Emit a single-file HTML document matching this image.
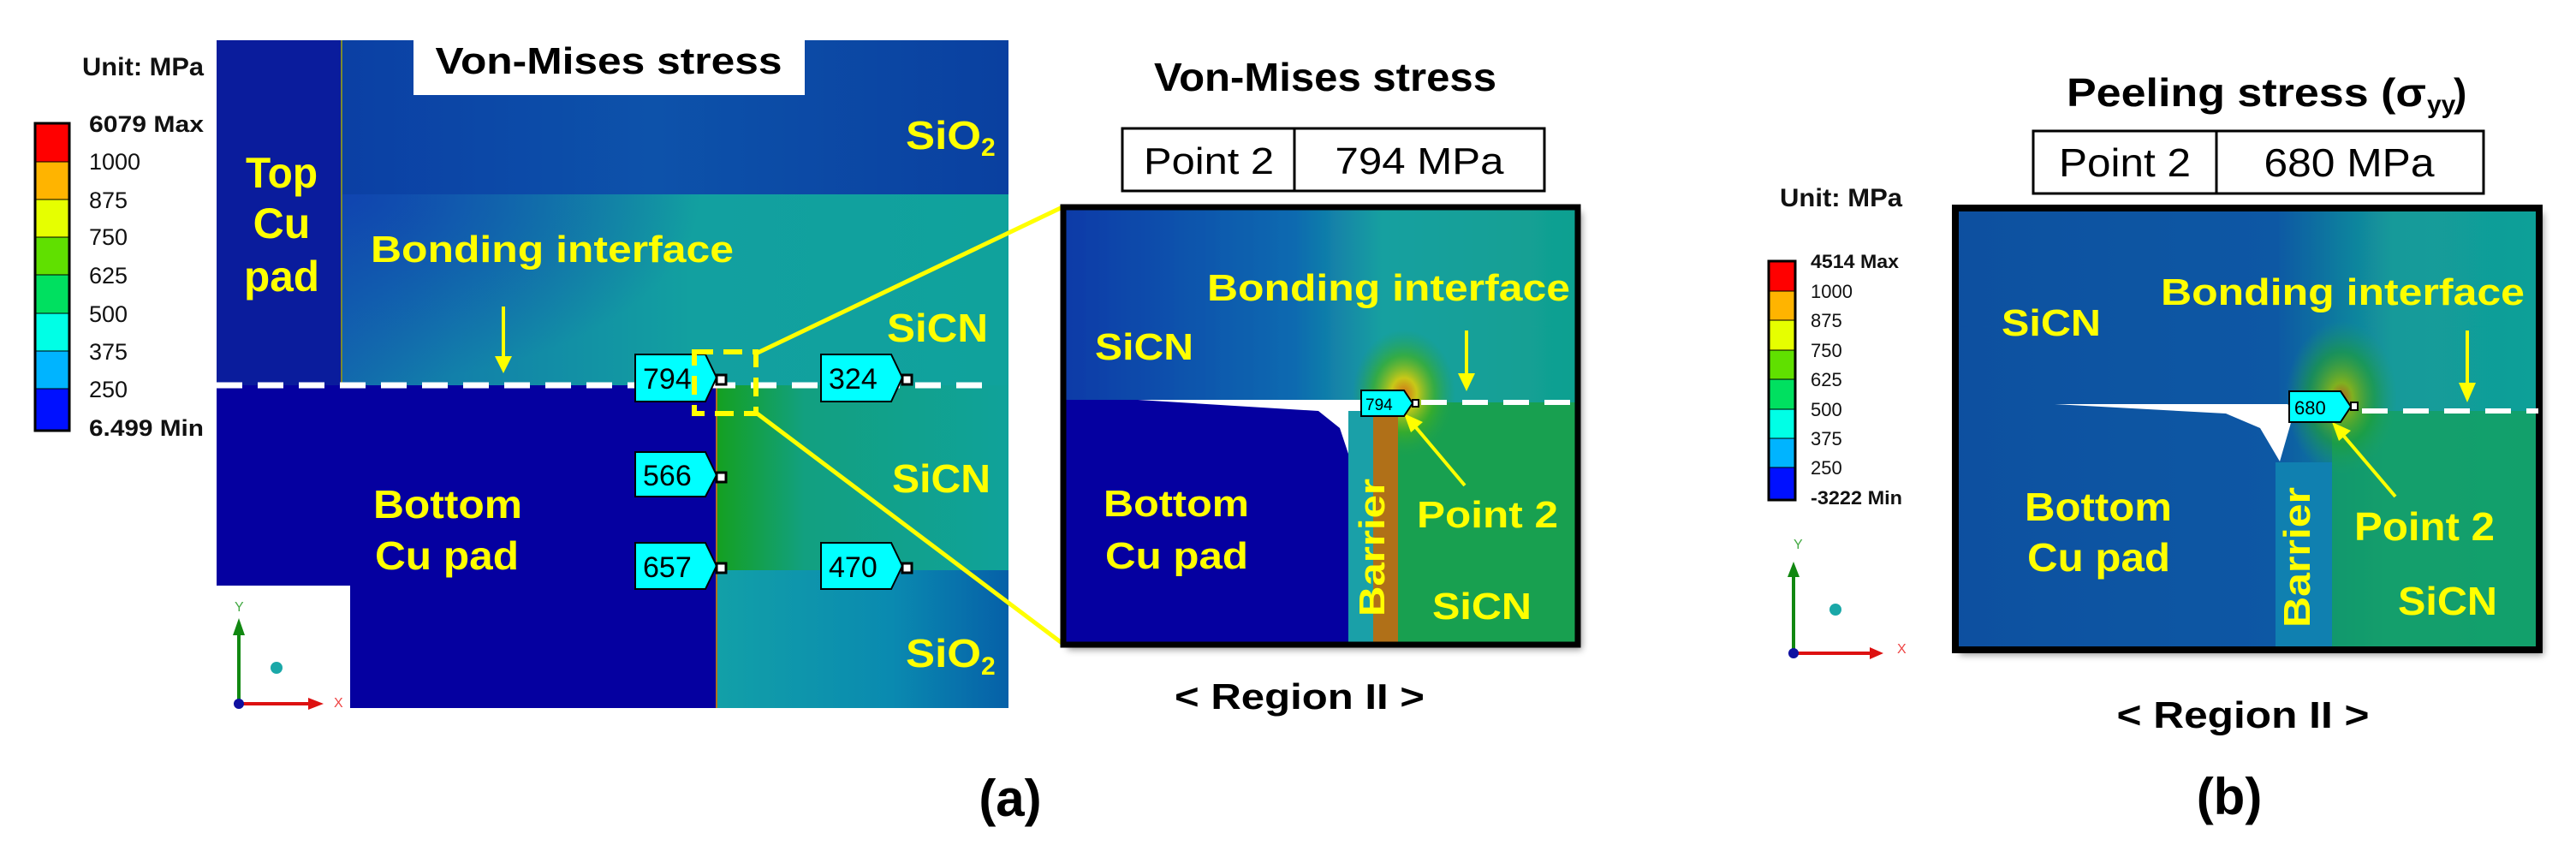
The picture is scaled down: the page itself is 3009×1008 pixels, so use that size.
<!DOCTYPE html>
<html><head><meta charset="utf-8"><style>
html,body{margin:0;padding:0;background:#fff;}
svg{display:block;}
text{font-family:"Liberation Sans",Arial,sans-serif;}
.y{fill:#ffff00;font-weight:bold;}
.k{fill:#000;font-weight:bold;}
.leg{fill:#111;font-size:27px;}
</style></head><body>
<svg width="3009" height="1008" viewBox="0 0 3009 1008" xmlns="http://www.w3.org/2000/svg">
<defs>
<linearGradient id="sicnU" x1="0" y1="0" x2="1" y2="0">
<stop offset="0" stop-color="#1250b0"/><stop offset="0.3" stop-color="#1280aa"/><stop offset="0.6" stop-color="#12a0a0"/><stop offset="1" stop-color="#10a29c"/></linearGradient>
<linearGradient id="sio2T" x1="0" y1="0" x2="1" y2="0">
<stop offset="0" stop-color="#0a38a2"/><stop offset="0.55" stop-color="#0d52aa"/><stop offset="1" stop-color="#0a40a0"/></linearGradient>
<linearGradient id="sicnL" x1="0" y1="0" x2="1" y2="0">
<stop offset="0" stop-color="#14a020"/><stop offset="0.3" stop-color="#12a080"/><stop offset="1" stop-color="#10a29a"/></linearGradient>
<linearGradient id="sio2B" x1="0" y1="0" x2="1" y2="0">
<stop offset="0" stop-color="#12a0a8"/><stop offset="0.6" stop-color="#0a8ab0"/><stop offset="1" stop-color="#0660a8"/></linearGradient>
<linearGradient id="zA" x1="0" y1="0" x2="1" y2="0">
<stop offset="0" stop-color="#0a3aa8"/><stop offset="0.45" stop-color="#0d6ab0"/><stop offset="0.62" stop-color="#18a0a0"/><stop offset="1" stop-color="#10a090"/></linearGradient>
<linearGradient id="zB" x1="0" y1="0" x2="1" y2="0">
<stop offset="0" stop-color="#0a50a0"/><stop offset="0.55" stop-color="#0c58a4"/><stop offset="0.75" stop-color="#139a9a"/><stop offset="1" stop-color="#10a098"/></linearGradient>
<radialGradient id="hotA" cx="0.5" cy="0.5" r="0.5">
<stop offset="0" stop-color="#d07018"/><stop offset="0.25" stop-color="#c8c818"/><stop offset="0.6" stop-color="#40b020" stop-opacity="0.7"/><stop offset="1" stop-color="#20a050" stop-opacity="0"/></radialGradient>
<radialGradient id="hotB" cx="0.5" cy="0.5" r="0.5">
<stop offset="0" stop-color="#b06020"/><stop offset="0.2" stop-color="#80b020"/><stop offset="0.6" stop-color="#20a030" stop-opacity="0.6"/><stop offset="1" stop-color="#20a060" stop-opacity="0"/></radialGradient>
<radialGradient id="blueTL" cx="0" cy="0" r="1">
<stop offset="0" stop-color="#1040b0" stop-opacity="0.9"/><stop offset="1" stop-color="#1040b0" stop-opacity="0"/></radialGradient>
<filter id="sh"><feDropShadow dx="5" dy="6" stdDeviation="4" flood-opacity="0.4"/></filter>
</defs>

<rect x="253" y="47" width="925" height="180" fill="url(#sio2T)"/>
<rect x="253" y="227" width="925" height="223" fill="url(#sicnU)"/>
<rect x="399" y="227" width="420" height="223" fill="url(#blueTL)"/>
<rect x="253" y="47" width="146" height="403" fill="#0a1c9c"/>
<line x1="399" y1="47" x2="399" y2="450" stroke="#7a8a30" stroke-width="2"/>
<rect x="837" y="450" width="341" height="216" fill="url(#sicnL)"/>
<rect x="837" y="666" width="341" height="161" fill="url(#sio2B)"/>
<rect x="253" y="450" width="584" height="377" fill="#0500a0"/>
<rect x="253" y="684" width="156" height="143" fill="#fff"/>
<line x1="837" y1="450" x2="837" y2="827" stroke="#b07020" stroke-width="2"/>
<rect x="483" y="47" width="457" height="64" fill="#fff"/>
<text x="711" y="86" text-anchor="middle" class="k" font-size="44" textLength="405" lengthAdjust="spacingAndGlyphs">Von-Mises stress</text>
<line x1="253" y1="450" x2="1165" y2="450" stroke="#fff" stroke-width="7" stroke-dasharray="30 18"/>

<text x="329" y="219" text-anchor="middle" class="y" font-size="50" textLength="84" lengthAdjust="spacingAndGlyphs">Top</text>
<text x="329" y="278" text-anchor="middle" class="y" font-size="50">Cu</text>
<text x="329" y="340" text-anchor="middle" class="y" font-size="50" textLength="88" lengthAdjust="spacingAndGlyphs">pad</text>
<text x="433" y="306" class="y" font-size="44" textLength="424" lengthAdjust="spacingAndGlyphs">Bonding interface</text>
<line x1="588" y1="358" x2="588" y2="420" stroke="#ffff00" stroke-width="4"/>
<polygon points="578,416 598,416 588,436" fill="#ffff00"/>
<text x="1058" y="174" class="y" font-size="46" textLength="88" lengthAdjust="spacingAndGlyphs">SiO</text><text x="1146" y="182" class="y" font-size="30">2</text>
<text x="1036" y="399" class="y" font-size="46" textLength="118" lengthAdjust="spacingAndGlyphs">SiCN</text>
<text x="1042" y="575" class="y" font-size="46" textLength="115" lengthAdjust="spacingAndGlyphs">SiCN</text>
<text x="1058" y="779" class="y" font-size="46" textLength="88" lengthAdjust="spacingAndGlyphs">SiO</text><text x="1146" y="788" class="y" font-size="30">2</text>
<text x="436" y="605" class="y" font-size="46" textLength="174" lengthAdjust="spacingAndGlyphs">Bottom</text>
<text x="438" y="665" class="y" font-size="46" textLength="168" lengthAdjust="spacingAndGlyphs">Cu pad</text>

<g font-family="Liberation Mono,monospace" font-size="34" fill="#000">
<g transform="translate(742,414)"><polygon points="0,0 82,0 95,27 82,55 0,55" fill="#00ffff" stroke="#000" stroke-width="2"/><rect x="95" y="24" width="11" height="11" fill="#fff" stroke="#000" stroke-width="3"/><text x="9" y="40">794</text></g>
<g transform="translate(742,528)"><polygon points="0,0 82,0 95,27 82,52 0,52" fill="#00ffff" stroke="#000" stroke-width="2"/><rect x="95" y="24" width="11" height="11" fill="#fff" stroke="#000" stroke-width="3"/><text x="9" y="39">566</text></g>
<g transform="translate(742,634)"><polygon points="0,0 82,0 95,27 82,54 0,54" fill="#00ffff" stroke="#000" stroke-width="2"/><rect x="95" y="24" width="11" height="11" fill="#fff" stroke="#000" stroke-width="3"/><text x="9" y="40">657</text></g>
<g transform="translate(959,414)"><polygon points="0,0 82,0 95,27 82,55 0,55" fill="#00ffff" stroke="#000" stroke-width="2"/><rect x="95" y="24" width="11" height="11" fill="#fff" stroke="#000" stroke-width="3"/><text x="9" y="40">324</text></g>
<g transform="translate(959,634)"><polygon points="0,0 82,0 95,27 82,54 0,54" fill="#00ffff" stroke="#000" stroke-width="2"/><rect x="95" y="24" width="11" height="11" fill="#fff" stroke="#000" stroke-width="3"/><text x="9" y="40">470</text></g>
</g>
<rect x="811" y="411" width="72" height="72" fill="none" stroke="#ffff00" stroke-width="6" stroke-dasharray="22 12"/>
<line x1="883" y1="413" x2="1243" y2="241" stroke="#ffff00" stroke-width="5"/>
<line x1="883" y1="482" x2="1243" y2="753" stroke="#ffff00" stroke-width="5"/>

<text x="96" y="88" font-size="30" font-weight="bold" fill="#111" textLength="142" lengthAdjust="spacingAndGlyphs">Unit: MPa</text>
<g stroke="#000" stroke-width="1">
<rect x="41" y="144" width="40" height="45" fill="#ff0000"/>
<rect x="41" y="189" width="40" height="44" fill="#ffb400"/>
<rect x="41" y="233" width="40" height="44" fill="#e6ff00"/>
<rect x="41" y="277" width="40" height="44" fill="#60e000"/>
<rect x="41" y="321" width="40" height="45" fill="#00e060"/>
<rect x="41" y="366" width="40" height="44" fill="#00ffe6"/>
<rect x="41" y="410" width="40" height="44" fill="#00b4ff"/>
<rect x="41" y="454" width="40" height="49" fill="#0010ff"/>
</g>
<rect x="41" y="144" width="40" height="359" fill="none" stroke="#000" stroke-width="3"/>
<g class="leg">
<text x="104" y="154" font-weight="bold" textLength="134" lengthAdjust="spacingAndGlyphs">6079 Max</text>
<text x="104" y="198">1000</text><text x="104" y="243">875</text><text x="104" y="286">750</text>
<text x="104" y="331">625</text><text x="104" y="376">500</text><text x="104" y="420">375</text>
<text x="104" y="464">250</text>
<text x="104" y="509" font-weight="bold" textLength="134" lengthAdjust="spacingAndGlyphs">6.499 Min</text>
</g>
<text x="274" y="714" font-size="16" fill="#4a4">Y</text>
<line x1="279" y1="822" x2="279" y2="740" stroke="#118811" stroke-width="4"/>
<polygon points="272,742 286,742 279,722" fill="#118811"/>
<line x1="279" y1="822" x2="362" y2="822" stroke="#dd1111" stroke-width="4"/>
<polygon points="360,815 360,829 378,822" fill="#dd1111"/>
<circle cx="279" cy="822" r="6" fill="#1010a0"/>
<circle cx="323" cy="780" r="7" fill="#1aa8a8"/>
<text x="390" y="826" font-size="16" fill="#e44">X</text>

<text x="1548" y="106" text-anchor="middle" class="k" font-size="46" textLength="400" lengthAdjust="spacingAndGlyphs">Von-Mises stress</text>
<rect x="1311" y="150" width="493" height="73" fill="#fff" stroke="#000" stroke-width="3"/>
<line x1="1512" y1="150" x2="1512" y2="223" stroke="#000" stroke-width="3"/>
<text x="1412" y="203" text-anchor="middle" font-size="44" fill="#000" textLength="152" lengthAdjust="spacingAndGlyphs">Point 2</text>
<text x="1658" y="203" text-anchor="middle" font-size="44" fill="#000" textLength="197" lengthAdjust="spacingAndGlyphs">794 MPa</text>
<g filter="url(#sh)">
<rect x="1242" y="242" width="601" height="511" fill="url(#zA)"/>
</g>
<rect x="1600" y="470" width="243" height="283" fill="#18a050"/>
<ellipse cx="1640" cy="460" rx="60" ry="75" fill="url(#hotA)"/>
<path d="M1245,467 L1590,467 L1590,470 L1575,490 L1575,753 L1245,753 Z" fill="#0500a0"/>
<path d="M1329,467 L1590,467 L1600,470 L1580,510 L1575,530 L1565,500 L1540,480 Z" fill="#fff"/>
<rect x="1575" y="480" width="29" height="273" fill="#1aa0a8"/>
<rect x="1604" y="476" width="29" height="277" fill="#b07018"/>
<rect x="1242" y="242" width="601" height="511" fill="none" stroke="#000" stroke-width="7"/>
<line x1="1660" y1="470" x2="1838" y2="470" stroke="#fff" stroke-width="6" stroke-dasharray="30 18"/>
<text x="1279" y="420" class="y" font-size="44" textLength="115" lengthAdjust="spacingAndGlyphs">SiCN</text>
<text x="1410" y="351" class="y" font-size="44" textLength="424" lengthAdjust="spacingAndGlyphs">Bonding interface</text>
<line x1="1713" y1="386" x2="1713" y2="440" stroke="#ffff00" stroke-width="4"/>
<polygon points="1703,436 1723,436 1713,457" fill="#ffff00"/>
<text x="1289" y="603" class="y" font-size="44" textLength="170" lengthAdjust="spacingAndGlyphs">Bottom</text>
<text x="1291" y="664" class="y" font-size="44" textLength="167" lengthAdjust="spacingAndGlyphs">Cu pad</text>
<text x="1655" y="616" class="y" font-size="44" textLength="165" lengthAdjust="spacingAndGlyphs">Point 2</text>
<text x="1673" y="723" class="y" font-size="44" textLength="116" lengthAdjust="spacingAndGlyphs">SiCN</text>
<text transform="translate(1617,720) rotate(-90)" class="y" font-size="42" textLength="161" lengthAdjust="spacingAndGlyphs">Barrier</text>
<line x1="1711" y1="567" x2="1652" y2="497" stroke="#ffff00" stroke-width="4"/>
<polygon points="1640,483 1662,493 1648,505" fill="#ffff00"/>
<g transform="translate(1590,456)"><polygon points="0,0 50,0 60,15 50,30 0,30" fill="#00ffff" stroke="#000" stroke-width="2"/><rect x="60" y="11" width="7" height="8" fill="#fff" stroke="#000" stroke-width="2"/><text x="5" y="23" font-family="Liberation Mono,monospace" font-size="19">794</text></g>
<text x="1518" y="828" text-anchor="middle" class="k" font-size="42" textLength="292" lengthAdjust="spacingAndGlyphs">&lt; Region II &gt;</text>
<text x="1180" y="953" text-anchor="middle" class="k" font-size="60">(a)</text>

<text x="2624" y="124" text-anchor="middle" class="k" font-size="46" textLength="420" lengthAdjust="spacingAndGlyphs">Peeling stress (σ</text>
<text x="2835" y="132" class="k" font-size="30">yy</text><text x="2866" y="124" class="k" font-size="46">)</text>
<rect x="2375" y="153" width="526" height="73" fill="#fff" stroke="#000" stroke-width="3"/>
<line x1="2589" y1="153" x2="2589" y2="226" stroke="#000" stroke-width="3"/>
<text x="2482" y="206" text-anchor="middle" font-size="46" fill="#000" textLength="154" lengthAdjust="spacingAndGlyphs">Point 2</text>
<text x="2744" y="206" text-anchor="middle" font-size="46" fill="#000" textLength="199" lengthAdjust="spacingAndGlyphs">680 MPa</text>

<text x="2079" y="241" font-size="30" font-weight="bold" fill="#111" textLength="143" lengthAdjust="spacingAndGlyphs">Unit: MPa</text>
<g stroke="#000" stroke-width="1">
<rect x="2066" y="305" width="31" height="35" fill="#ff0000"/>
<rect x="2066" y="340" width="31" height="34" fill="#ffb400"/>
<rect x="2066" y="374" width="31" height="35" fill="#e6ff00"/>
<rect x="2066" y="409" width="31" height="34" fill="#60e000"/>
<rect x="2066" y="443" width="31" height="35" fill="#00e060"/>
<rect x="2066" y="478" width="31" height="34" fill="#00ffe6"/>
<rect x="2066" y="512" width="31" height="34" fill="#00b4ff"/>
<rect x="2066" y="546" width="31" height="38" fill="#0010ff"/>
</g>
<rect x="2066" y="305" width="31" height="279" fill="none" stroke="#000" stroke-width="3"/>
<g class="leg" style="font-size:22px">
<text x="2115" y="313" font-weight="bold" textLength="103" lengthAdjust="spacingAndGlyphs">4514 Max</text>
<text x="2115" y="348">1000</text><text x="2115" y="382">875</text><text x="2115" y="417">750</text>
<text x="2115" y="451">625</text><text x="2115" y="486">500</text><text x="2115" y="520">375</text>
<text x="2115" y="554">250</text>
<text x="2115" y="589" font-weight="bold" textLength="107" lengthAdjust="spacingAndGlyphs">-3222 Min</text>
</g>
<text x="2095" y="641" font-size="16" fill="#4a4">Y</text>
<line x1="2095" y1="763" x2="2095" y2="672" stroke="#118811" stroke-width="4"/>
<polygon points="2088,674 2102,674 2095,656" fill="#118811"/>
<line x1="2095" y1="763" x2="2186" y2="763" stroke="#dd1111" stroke-width="4"/>
<polygon points="2184,756 2184,770 2200,763" fill="#dd1111"/>
<circle cx="2095" cy="763" r="6" fill="#1010a0"/>
<circle cx="2144" cy="712" r="7" fill="#1aa8a8"/>
<text x="2216" y="763" font-size="16" fill="#e44">X</text>

<g filter="url(#sh)">
<rect x="2284" y="243" width="682" height="516" fill="url(#zB)"/>
</g>
<rect x="2724" y="480" width="242" height="279" fill="#14a060" opacity="0.8"/>
<ellipse cx="2735" cy="465" rx="65" ry="90" fill="url(#hotB)"/>
<path d="M2400,472 L2672,472 L2680,480 L2663,539 L2640,500 L2600,483 Z" fill="#fff"/>
<rect x="2658" y="540" width="66" height="219" fill="#1080b0"/>
<rect x="2284" y="243" width="682" height="516" fill="none" stroke="#000" stroke-width="8"/>
<line x1="2759" y1="480" x2="2965" y2="480" stroke="#fff" stroke-width="6" stroke-dasharray="30 18"/>
<text x="2338" y="392" class="y" font-size="44" textLength="116" lengthAdjust="spacingAndGlyphs">SiCN</text>
<text x="2524" y="356" class="y" font-size="44" textLength="425" lengthAdjust="spacingAndGlyphs">Bonding interface</text>
<line x1="2882" y1="386" x2="2882" y2="450" stroke="#ffff00" stroke-width="4"/>
<polygon points="2872,447 2892,447 2882,470" fill="#ffff00"/>
<text x="2365" y="608" class="y" font-size="46" textLength="172" lengthAdjust="spacingAndGlyphs">Bottom</text>
<text x="2368" y="667" class="y" font-size="46" textLength="167" lengthAdjust="spacingAndGlyphs">Cu pad</text>
<text x="2750" y="631" class="y" font-size="46" textLength="164" lengthAdjust="spacingAndGlyphs">Point 2</text>
<text x="2801" y="718" class="y" font-size="46" textLength="116" lengthAdjust="spacingAndGlyphs">SiCN</text>
<text transform="translate(2698,733) rotate(-90)" class="y" font-size="44" textLength="164" lengthAdjust="spacingAndGlyphs">Barrier</text>
<line x1="2798" y1="580" x2="2735" y2="506" stroke="#ffff00" stroke-width="4"/>
<polygon points="2724,493 2746,503 2732,515" fill="#ffff00"/>
<g transform="translate(2674,457)"><polygon points="0,0 60,0 72,18 60,36 0,36" fill="#00ffff" stroke="#000" stroke-width="2"/><rect x="72" y="13" width="8" height="9" fill="#fff" stroke="#000" stroke-width="2"/><text x="6" y="27" font-family="Liberation Mono,monospace" font-size="22">680</text></g>
<text x="2620" y="850" text-anchor="middle" class="k" font-size="44" textLength="295" lengthAdjust="spacingAndGlyphs">&lt; Region II &gt;</text>
<text x="2604" y="951" text-anchor="middle" class="k" font-size="60">(b)</text>
</svg>
</body></html>
